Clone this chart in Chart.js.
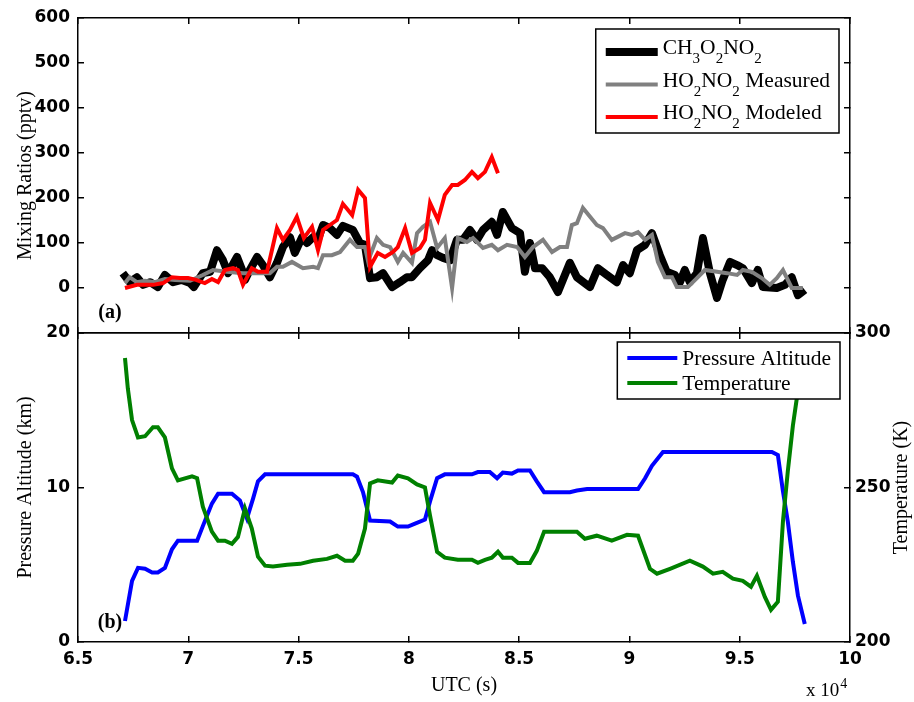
<!DOCTYPE html>
<html>
<head>
<meta charset="utf-8">
<script src="https://cdn.jsdelivr.net/npm/chart.js@4.4.0/dist/chart.umd.min.js"></script>
<style>
  html, body { margin: 0; padding: 0; background: #fff; }
  #wrap { position: relative; width: 914px; height: 702px; }
  #wrap canvas { position: absolute; left: 0; top: 0; }
</style>
</head>
<body>
<div id="wrap">
  <canvas id="topChart" width="914" height="702"></canvas>
  <canvas id="bottomChart" width="914" height="702"></canvas>
</div>
<script>
// ---- data (UTC seconds) ----
const timeCH3 = [67030, 67340, 67670, 67950, 68270, 68620, 68940, 69310, 69710, 70080, 70250, 70660, 70990, 71300, 71570, 71800, 72210, 72440, 72570, 72790, 73120, 73380, 73700, 74020, 74290, 74610, 74830, 75160, 75380, 75660, 75880, 76110, 76420, 76740, 77010, 77460, 77780, 78010, 78240, 78550, 78830, 79240, 79590, 79910, 80140, 80500, 80870, 81050, 81280, 81550, 81870, 82180, 82450, 82770, 83090, 83360, 83760, 84000, 84260, 84670, 85040, 85260, 85490, 85720, 86040, 86390, 86760, 87300, 87620, 88210, 88570, 88980, 89430, 89710, 90020, 90340, 90710, 91020, 91380, 91690, 92060, 92290, 92510, 92740, 93060, 93330, 93650, 93970, 94230, 94560, 94880, 95140, 95550, 95820, 96050, 96680, 97050, 97360, 97640, 97950];
const ch3o2no2 = [33, 13, 24, 7, 13, 2, 29, 13, 18, 11, 2, 33, 36, 84, 62, 33, 69, 40, 18, 40, 69, 51, 24, 56, 91, 113, 78, 113, 100, 113, 108, 140, 133, 118, 138, 129, 100, 96, 22, 24, 33, 2, 13, 24, 24, 44, 62, 84, 73, 67, 62, 107, 107, 129, 107, 129, 147, 118, 169, 133, 122, 36, 100, 44, 44, 24, -9, 56, 24, 2, 44, 29, 13, 51, 33, 84, 96, 122, 73, 36, 29, 13, 40, 13, 33, 111, 33, -22, 18, 58, 51, 44, 11, 40, 2, 0, 7, 24, -16, -4];

const timeHO2meas = [67130, 67340, 67670, 68040, 68490, 68940, 69400, 70080, 70660, 71120, 71750, 72480, 72940, 73700, 74020, 74290, 74700, 75200, 75660, 75880, 76110, 76510, 76880, 77330, 77650, 78010, 78150, 78550, 78830, 79150, 79500, 79740, 80140, 80370, 80640, 80960, 81280, 81630, 81960, 82220, 82630, 82910, 83360, 83760, 84040, 84450, 84910, 85260, 85630, 86080, 86490, 86850, 87170, 87390, 87620, 87890, 88520, 88800, 89200, 89800, 90110, 90390, 90710, 91020, 91290, 91610, 91930, 92150, 92650, 93060, 93420, 93970, 94420, 94880, 95140, 95550, 96000, 96360, 96680, 96960, 97360, 97860];
const ho2no2Measured = [11, 24, 13, 16, 13, 20, 18, 16, 29, 40, 36, 33, 33, 33, 47, 47, 58, 44, 47, 44, 73, 73, 80, 107, 91, 91, 60, 111, 96, 91, 58, 78, 56, 122, 136, 147, 89, 111, 0, 111, 102, 111, 89, 96, 84, 96, 91, 69, 91, 107, 80, 91, 91, 140, 144, 178, 140, 133, 107, 122, 118, 124, 107, 118, 58, 24, 24, 2, 2, 22, 40, 36, 33, 29, 40, 36, 22, 7, 22, 40, 0, 0];

const timeHO2mod = [67130, 67670, 68400, 68860, 69260, 69620, 69990, 70350, 70750, 71070, 71350, 71660, 72030, 72250, 72480, 72880, 73160, 73570, 74020, 74290, 74610, 74920, 75240, 75610, 75880, 76110, 76420, 76740, 77010, 77430, 77700, 78010, 78240, 78590, 78920, 79280, 79500, 79830, 80140, 80500, 80730, 80960, 81320, 81630, 81960, 82220, 82540, 82860, 83130, 83450, 83760, 84040];
const ho2no2Modeled = [0, 7, 7, 11, 24, 22, 22, 18, 11, 20, 13, 40, 44, 40, 7, 44, 36, 36, 133, 107, 129, 158, 111, 136, 84, 129, 140, 151, 187, 162, 218, 200, 47, 78, 69, 80, 91, 133, 78, 89, 107, 189, 151, 207, 229, 229, 240, 258, 244, 258, 291, 255];

const timeAlt = [67130, 67450, 67720, 68040, 68360, 68620, 68940, 69260, 69530, 70400, 70660, 71070, 71350, 71980, 72340, 72660, 72940, 73160, 73480, 77460, 77650, 77920, 78240, 79150, 79500, 79960, 80280, 80730, 80960, 81280, 81630, 82860, 83130, 83670, 84000, 84260, 84670, 84950, 85490, 85800, 86130, 87300, 87620, 88080, 90390, 90710, 91020, 91520, 96460, 96730, 96960, 97180, 97410, 97640, 97950];
const pressureAlt = [1.36, 3.96, 4.8, 4.74, 4.5, 4.5, 4.8, 6.0, 6.56, 6.56, 7.5, 8.96, 9.6, 9.6, 9.16, 8.0, 9.3, 10.4, 10.85, 10.85, 10.7, 9.7, 7.86, 7.8, 7.47, 7.47, 7.66, 7.92, 9.1, 10.6, 10.85, 10.85, 11.0, 11.0, 10.6, 10.97, 10.9, 11.1, 11.1, 10.4, 9.7, 9.7, 9.8, 9.9, 9.9, 10.6, 11.4, 12.3, 12.3, 12.1, 9.76, 7.8, 5.2, 3.0, 1.17];

const timeTemp = [67130, 67260, 67450, 67720, 68040, 68400, 68620, 68940, 69260, 69530, 70170, 70400, 70660, 71070, 71350, 71660, 71980, 72250, 72570, 72880, 73160, 73480, 73840, 74480, 75070, 75660, 76290, 76740, 77110, 77460, 77700, 78010, 78240, 78590, 79240, 79500, 79960, 80370, 80730, 80960, 81280, 81630, 82220, 82860, 83130, 83450, 83760, 84040, 84260, 84670, 84950, 85490, 85800, 86130, 86850, 87620, 87980, 88520, 89200, 89890, 90390, 90930, 91250, 91840, 92740, 93330, 93790, 94230, 94690, 95140, 95510, 95780, 96140, 96420, 96730, 96960, 97180, 97410, 97590, 97950];
const temperature = [291.9, 282, 271.8, 266.2, 266.6, 269.5, 269.5, 266.2, 256.2, 252.3, 253.6, 253, 243.8, 235.7, 232.8, 232.8, 231.8, 234, 243.2, 236.7, 227.6, 224.7, 224.4, 225, 225.3, 226.3, 226.9, 227.9, 226.3, 226.3, 228.6, 236.7, 251.3, 252.3, 251.6, 253.9, 253, 251, 250, 240.9, 229.2, 227.3, 226.6, 226.6, 225.6, 226.6, 227.3, 229.2, 227.3, 227.3, 225.6, 225.6, 229.5, 235.7, 235.7, 235.7, 233.4, 234.4, 232.8, 234.7, 234.4, 223.7, 222.1, 223.7, 226.3, 224.4, 222.1, 222.7, 220.5, 219.8, 217.9, 221.4, 214.6, 210.4, 213, 239, 255.2, 270, 278.9, 292];

const pts = (xs, ys) => xs.map((x, i) => ({ x: x, y: ys[i] }));

// ---- styling ----
const tickFont = { family: 'DejaVu Sans', weight: 'bold', size: 17 };
const titleFont = { family: 'Liberation Serif', size: 20 };
const inwardGrid = { drawOnChartArea: false, drawTicks: true, tickLength: -6, color: '#000', lineWidth: 1.5 };
const frame = { display: true, color: '#000', width: 1.5 };

function axis(pos, min, max, step, size, labels, title, extra) {
  const horiz = pos === 'top' || pos === 'bottom';
  const cfg = {
    type: 'linear', position: pos, min: min, max: max,
    ticks: Object.assign({ stepSize: step, display: !!labels, font: tickFont, color: '#000', padding: 14 }, extra || {}),
    grid: inwardGrid,
    border: frame,
    // fixed axis sizes so both panels line up; drop label overhang padding
    afterFit: function (s) {
      if (horiz) s.height = size; else s.width = size;
      s.paddingTop = 0; s.paddingBottom = 0;
    }
  };
  if (title) cfg.title = title;
  return cfg;
}

// split "HO_2NO_2" into normal / subscript runs
function runs(label) {
  const out = [];
  for (let i = 0; i < label.length; i++) {
    if (label[i] === '_') { out.push({ t: label[i + 1], sub: true }); i++; }
    else if (out.length && !out[out.length - 1].sub) out[out.length - 1].t += label[i];
    else out.push({ t: label[i], sub: false });
  }
  return out;
}

const boxLegend = {
  id: 'boxLegend',
  afterDatasetsDraw(chart, args, o) {
    const ctx = chart.ctx, area = chart.chartArea, sets = chart.data.datasets;
    const main = o.size + 'px "Liberation Serif"', sub = o.subSize + 'px "Liberation Serif"';
    ctx.save();
    const widths = sets.map(ds => runs(ds.label).reduce((w, r) => { ctx.font = r.sub ? sub : main; return w + ctx.measureText(r.t).width; }, 0));
    const w = o.padL + o.lineLen + o.gap + Math.max(...widths) + o.padR;
    const h = o.rowTop + (sets.length - 1) * o.rowH + o.rowBottom;
    const x0 = area.right - o.right - w, y0 = area.top + o.top;
    ctx.fillStyle = '#fff';
    ctx.fillRect(x0, y0, w, h);
    ctx.strokeStyle = '#000'; ctx.lineWidth = 1.5;
    ctx.strokeRect(x0, y0, w, h);
    sets.forEach((ds, i) => {
      const cy = y0 + o.rowTop + i * o.rowH;
      ctx.strokeStyle = ds.borderColor; ctx.lineWidth = ds.borderWidth; ctx.lineCap = 'butt';
      ctx.beginPath(); ctx.moveTo(x0 + o.padL, cy); ctx.lineTo(x0 + o.padL + o.lineLen, cy); ctx.stroke();
      let x = x0 + o.padL + o.lineLen + o.gap;
      ctx.fillStyle = '#000'; ctx.textBaseline = 'alphabetic'; ctx.textAlign = 'left';
      runs(ds.label).forEach(r => {
        ctx.font = r.sub ? sub : main;
        ctx.fillText(r.t, x, cy + o.baseDy + (r.sub ? o.subDy : 0));
        x += ctx.measureText(r.t).width;
      });
    });
    ctx.restore();
  }
};

const notes = {
  id: 'notes',
  afterDraw(chart, args, o) {
    const ctx = chart.ctx, area = chart.chartArea;
    ctx.save();
    ctx.fillStyle = '#000';
    ctx.font = 'bold 20px "Liberation Serif"';
    ctx.textAlign = 'center'; ctx.textBaseline = 'middle';
    ctx.fillText(o.tag, area.left + 32, area.bottom - o.tagDy);
    if (o.rightTitle) {
      // right-hand label reads bottom-to-top, like the left one
      ctx.save();
      ctx.translate(chart.width - 12, (area.top + area.bottom) / 2);
      ctx.rotate(-Math.PI / 2);
      ctx.font = titleFont.size + 'px "Liberation Serif"';
      ctx.fillText(o.rightTitle, 0, 0);
      ctx.restore();
    }
    if (o.power) {
      ctx.textAlign = 'left'; ctx.textBaseline = 'alphabetic';
      ctx.font = '19px "Liberation Serif"';
      const x = area.right - 44, y = chart.height - 6;
      ctx.fillText('x 10', x, y);
      const w = ctx.measureText('x 10').width;
      ctx.font = '14px "Liberation Serif"';
      ctx.fillText('4', x + w + 1, y - 8);
    }
    ctx.restore();
  }
};

const common = {
  responsive: false,
  animation: false,
  devicePixelRatio: 1,
  elements: { point: { radius: 0 }, line: { tension: 0 } }
};

// ---- panel (a) ----
new Chart(document.getElementById('topChart'), {
  type: 'line',
  data: {
    datasets: [
      { label: 'CH_3O_2NO_2', data: pts(timeCH3, ch3o2no2), borderColor: '#000000', borderWidth: 8, borderJoinStyle: 'round', order: 2 },
      { label: 'HO_2NO_2 Measured', data: pts(timeHO2meas, ho2no2Measured), borderColor: '#808080', borderWidth: 4, order: 1 },
      { label: 'HO_2NO_2 Modeled', data: pts(timeHO2mod, ho2no2Modeled), borderColor: '#ff0000', borderWidth: 4, order: 0 }
    ]
  },
  options: Object.assign({}, common, {
    layout: { padding: { top: 18, left: 0, right: 0, bottom: 0 } },
    scales: {
      x: axis('bottom', 65000, 100000, 5000, 369, false),
      x2: axis('top', 65000, 100000, 5000, 0, false),
      y: axis('left', -100, 600, 100, 78, true,
        { display: true, text: 'Mixing Ratios (pptv)', font: titleFont, color: '#000', padding: { top: 14, bottom: 0 } },
        { callback: v => (v === -100 ? '' : v) }),
      yR: axis('right', -100, 600, 100, 64, false)
    },
    plugins: {
      legend: { display: false }, tooltip: { enabled: false },
      boxLegend: { size: 21.5, subSize: 15, padL: 10, lineLen: 52, gap: 5, padR: 9, rowTop: 23, rowH: 32.5, rowBottom: 16, right: 11, top: 11, baseDy: 2, subDy: 9 },
      notes: { tag: '(a)', tagDy: 20 }
    }
  }),
  plugins: [boxLegend, notes]
});

// ---- panel (b) ----
new Chart(document.getElementById('bottomChart'), {
  type: 'line',
  data: {
    datasets: [
      { label: 'Pressure Altitude', data: pts(timeAlt, pressureAlt), borderColor: '#0000ff', borderWidth: 4, yAxisID: 'y', order: 1 },
      { label: 'Temperature', data: pts(timeTemp, temperature), borderColor: '#008000', borderWidth: 4, yAxisID: 'yT', order: 0 }
    ]
  },
  options: Object.assign({}, common, {
    layout: { padding: { top: 333, left: 0, right: 0, bottom: 0 } },
    scales: {
      x: axis('bottom', 65000, 100000, 5000, 60, true,
        { display: true, text: 'UTC (s)', font: titleFont, color: '#000', padding: { top: 0, bottom: 4 } },
        { callback: v => String(v / 10000), padding: 13 }),
      x2: axis('top', 65000, 100000, 5000, 0, false),
      y: axis('left', 0, 20, 10, 78, true,
        { display: true, text: 'Pressure Altitude (km)', font: titleFont, color: '#000', padding: { top: 14, bottom: 0 } }),
      yT: axis('right', 200, 300, 50, 64, true, null, { padding: 11 })
    },
    plugins: {
      legend: { display: false }, tooltip: { enabled: false },
      boxLegend: { size: 21.5, subSize: 15, padL: 10, lineLen: 50, gap: 5, padR: 9, rowTop: 16, rowH: 25, rowBottom: 16, right: 10, top: 9, baseDy: 7, subDy: 9 },
      notes: { tag: '(b)', tagDy: 19, power: true, rightTitle: 'Temperature (K)' }
    }
  }),
  plugins: [boxLegend, notes]
});
</script>
</body>
</html>
